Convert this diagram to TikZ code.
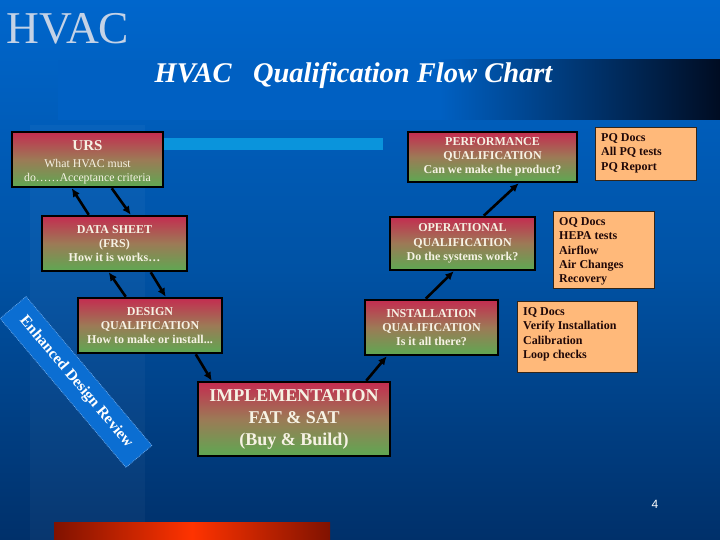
\documentclass[tikz,border=0pt]{standalone}
\usepackage{fontspec}
\setmainfont{Liberation Serif}
\newfontfamily\sansf{Liberation Sans}
\usetikzlibrary{arrows.meta}
\definecolor{bgtop}{HTML}{0066CC}
\definecolor{bgmid}{HTML}{0052A4}
\definecolor{bgbot}{HTML}{00306A}
\definecolor{bandblue}{HTML}{0060C2}
\definecolor{banddark}{HTML}{000C22}
\definecolor{hvacgrey}{HTML}{C4D2E6}
\definecolor{qred}{HTML}{C42C50}
\definecolor{qmid}{HTML}{9C7A56}
\definecolor{qgreen}{HTML}{5EA852}
\definecolor{qtext}{HTML}{F6F2E4}
\definecolor{docfill}{HTML}{FFB97A}
\definecolor{doctxt}{HTML}{200808}
\definecolor{lightbar}{HTML}{0A94DC}
\definecolor{bannerblue}{HTML}{0B6ED2}
\definecolor{bannerline}{HTML}{6AA6E6}
\definecolor{barred}{HTML}{FF3300}
\definecolor{bardark}{HTML}{801200}
\tikzset{
  qbox/.style={draw=black, line width=2.5pt, top color=qred, bottom color=qgreen, middle color=qmid,
    text=qtext, align=center, inner sep=0pt, font=\bfseries\fontsize{12}{14.3}\selectfont},
  docbox/.style={draw=black!80!docfill, line width=0.9pt, fill=docfill, inner sep=0pt},
  doctext/.style={text=doctxt, align=left, anchor=north west, inner sep=0pt,
    font=\bfseries\fontsize{12}{14.3}\selectfont},
  arr/.style={line width=2.6pt, -{Latex[length=8.5pt,width=8pt]}}
}
\begin{document}
\begin{tikzpicture}[x=1pt,y=-1pt]
\useasboundingbox (0,0) rectangle (720,540);
% background
\shade[top color=bgtop, bottom color=bgbot, middle color=bgmid] (0,0) rectangle (720,540);
\fill[white, opacity=0.03] (30,125) rectangle (145,540);
% title band
\fill[bandblue] (58,60) rectangle (440,120);
\shade[left color=bandblue, right color=banddark] (440,60) rectangle (720,120);
% big HVAC
\node[anchor=south west, inner sep=0pt, text=hvacgrey, font=\fontsize{45.5}{48}\selectfont] (hvac) at (6,44) {HVAC};
% title
\node[inner sep=0pt, text=white, font=\bfseries\itshape\fontsize{28.5}{30}\selectfont] (title) at (353.5,76) {HVAC\ \ \ Qualification Flow Chart};
% light bar
\fill[lightbar] (163,138) rectangle (383,150);
% bottom bar
\shade[left color=bardark, right color=bardark, middle color=barred] (54,522) rectangle (330,540);
% banner
\node[rotate=-49.8, minimum width=195pt, minimum height=34pt, fill=bannerblue, draw=bannerline,
  densely dotted, line width=0.8pt, inner sep=0pt, text=white,
  font=\bfseries\fontsize{15.5}{17}\selectfont] (banner) at (76,382) {Enhanced Design Review};
% main boxes
\node[qbox, minimum width=151pt, minimum height=55pt] (urs) at (87.5,159.5)
  {{\fontsize{15}{17}\selectfont\rule{0pt}{15.5pt}URS}\\[3pt]{\mdseries\fontsize{11.8}{14.5}\selectfont What HVAC must}\\{\mdseries\fontsize{11.8}{14.5}\selectfont do……Acceptance criteria}};
\node[qbox, minimum width=145pt, minimum height=55pt] (ds) at (114.5,243.5)
  {DATA SHEET\\(FRS)\\How it is works…};
\node[qbox, minimum width=144pt, minimum height=55pt] (dq) at (150,325.5)
  {DESIGN\\QUALIFICATION\\How to make or install...};
\node[qbox, minimum width=192pt, minimum height=74pt, font=\bfseries\fontsize{18}{22}\selectfont] (impl) at (294,419)
  {IMPLEMENTATION\\FAT \& SAT\\(Buy \& Build)};
\node[qbox, minimum width=133pt, minimum height=55pt] (iq) at (431.5,327.5)
  {INSTALLATION\\QUALIFICATION\\Is it all there?};
\node[qbox, minimum width=145pt, minimum height=53pt] (oq) at (462.5,243.5)
  {OPERATIONAL\\QUALIFICATION\\Do the systems work?};
\node[qbox, minimum width=169pt, minimum height=50pt] (pq) at (492.5,157)
  {PERFORMANCE\\QUALIFICATION\\Can we make the product?};
% doc boxes
\node[docbox, minimum width=101pt, minimum height=53pt] (pqd) at (645.5,153.5) {};
\node[doctext] (pqdt) at (601,133.5) {PQ Docs\\All PQ tests\\PQ Report};
\node[docbox, minimum width=101pt, minimum height=77pt] (oqd) at (603.5,249.5) {};
\node[doctext] (oqdt) at (559,217.5) {OQ Docs\\HEPA tests\\Airflow\\Air Changes\\Recovery};
\node[docbox, minimum width=120pt, minimum height=71pt] (iqd) at (577,336.5) {};
\node[doctext] (iqdt) at (523,307.5) {IQ Docs\\Verify Installation\\Calibration\\Loop checks};
% arrows
\draw[arr] ([xshift=101pt]urs.south west) -- ([xshift=90pt]ds.north west);
\draw[arr] ([xshift=48pt]ds.north west) -- ([xshift=61pt]urs.south west);
\draw[arr] ([xshift=110pt]ds.south west) -- ([xshift=89pt]dq.north west);
\draw[arr] ([xshift=49pt]dq.north west) -- ([xshift=68pt]ds.south west);
\draw[arr] ([xshift=119pt]dq.south west) -- ([xshift=15pt]impl.north west);
\draw[arr] ([xshift=-25pt]impl.north east) -- ([xshift=23pt]iq.south west);
\draw[arr] ([xshift=62pt]iq.north west) -- ([xshift=65pt]oq.south west);
\draw[arr] ([xshift=95pt]oq.north west) -- ([xshift=112pt]pq.south west);
% page number
\node[inner sep=0pt, text=white, font=\sansf\fontsize{12}{14}\selectfont] (pnum) at (655,504) {4};
\end{tikzpicture}
\end{document}
